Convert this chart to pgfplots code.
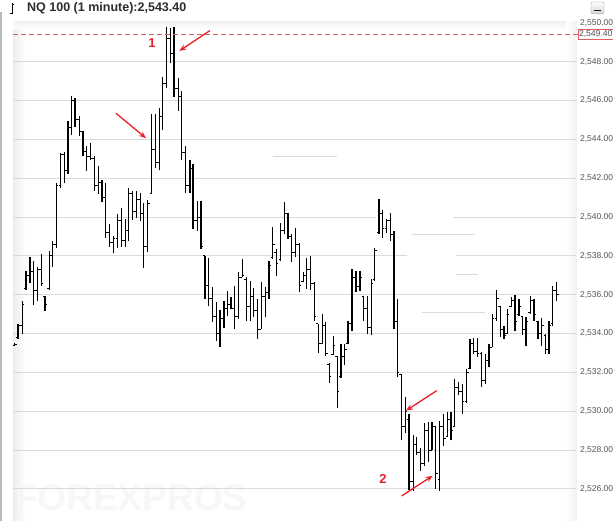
\documentclass[border=0pt]{standalone}
\usepackage{pgfplots}
\pgfplotsset{compat=1.18}
\usepackage{pgfplotstable}
\usepackage{fontspec}
\setmainfont{Liberation Sans}
\usetikzlibrary{arrows.meta}

\pgfdeclareplotmark{ohlcopen}{\pgfpathmoveto{\pgfqpoint{-2.0pt}{0pt}}\pgfpathlineto{\pgfqpoint{0pt}{0pt}}\pgfusepathqstroke}
\pgfdeclareplotmark{ohlcclose}{\pgfpathmoveto{\pgfqpoint{0pt}{0pt}}\pgfpathlineto{\pgfqpoint{2.0pt}{0pt}}\pgfusepathqstroke}

\definecolor{gridc}{RGB}{218,218,218}
\definecolor{annred}{RGB}{235,32,38}
\definecolor{dashred}{RGB}{222,92,92}
\definecolor{labgray}{RGB}{85,85,85}
\definecolor{titlec}{RGB}{45,45,45}

% x = horizontal position of the one-minute bar, o h l c = open high low close
\pgfplotstableread{
x o h l c
14.7 2533.40 2533.50 2533.35 2533.45
18.0 2533.80 2534.50 2533.73 2534.40
22.3 2534.40 2535.66 2534.00 2535.50
26.0 2536.30 2537.23 2536.26 2537.00
30.0 2537.00 2537.95 2536.58 2537.20
33.3 2537.20 2537.74 2535.49 2536.20
37.3 2536.20 2537.44 2535.66 2537.30
41.3 2537.30 2538.12 2536.46 2536.60
45.0 2535.90 2535.95 2535.18 2535.50
49.3 2536.30 2538.26 2536.24 2538.00
52.7 2538.00 2538.74 2537.44 2538.60
56.3 2538.60 2541.74 2538.43 2541.60
60.7 2541.60 2543.30 2541.47 2543.20
64.3 2543.20 2543.35 2541.73 2542.40
68.0 2542.40 2544.92 2542.23 2544.60
71.7 2544.60 2546.24 2544.24 2546.00
75.0 2546.00 2546.15 2544.64 2545.00
79.3 2545.00 2545.22 2544.15 2544.40
83.0 2544.40 2544.41 2543.16 2543.40
86.3 2543.40 2543.64 2542.39 2543.10
90.3 2543.10 2543.82 2542.96 2543.00
94.3 2543.00 2543.13 2541.33 2541.60
98.3 2541.60 2542.65 2541.20 2541.80
102.0 2541.80 2541.93 2540.77 2541.00
105.7 2541.00 2541.76 2538.94 2539.20
109.7 2539.20 2539.63 2538.46 2538.70
113.3 2538.70 2539.03 2538.17 2538.90
117.7 2538.90 2540.17 2538.43 2539.80
121.3 2539.80 2540.45 2538.46 2538.80
125.3 2538.80 2539.88 2538.46 2539.30
128.7 2539.30 2541.49 2538.75 2541.20
132.3 2541.20 2541.35 2539.87 2540.30
136.3 2540.30 2541.32 2539.95 2540.90
140.3 2540.90 2541.23 2539.78 2540.20
143.7 2540.20 2540.72 2537.38 2538.50
147.7 2538.50 2540.86 2538.21 2540.70
151.7 2541.20 2545.30 2541.18 2543.50
155.5 2543.50 2545.30 2542.50 2542.80
159.3 2542.80 2545.60 2542.40 2545.20
162.7 2545.20 2547.20 2544.50 2546.90
166.5 2546.90 2549.76 2546.64 2549.20
170.5 2549.20 2549.71 2547.95 2548.40
174.0 2548.40 2549.76 2546.20 2546.60
178.3 2546.60 2547.15 2545.44 2546.20
181.5 2546.20 2546.50 2542.96 2543.30
185.7 2543.30 2543.64 2541.25 2541.60
190.0 2541.60 2542.96 2541.25 2542.50
193.0 2542.50 2542.75 2539.37 2539.80
197.3 2539.80 2540.82 2539.28 2540.00
201.0 2540.00 2540.82 2538.34 2538.50
204.8 2538.00 2538.00 2535.80 2536.50
208.6 2536.50 2537.90 2535.40 2535.80
212.4 2535.80 2536.40 2534.60 2534.90
216.2 2534.90 2535.60 2533.60 2534.00
220.0 2534.00 2535.20 2533.30 2534.80
223.8 2534.80 2535.70 2534.30 2535.30
227.6 2535.30 2536.20 2534.90 2535.50
231.0 2535.50 2535.86 2535.24 2535.30
234.3 2535.30 2536.46 2534.24 2534.90
238.3 2534.90 2537.15 2534.75 2536.90
242.3 2536.90 2537.83 2536.89 2537.00
246.3 2536.80 2536.89 2534.67 2535.40
250.3 2535.40 2536.72 2534.67 2535.90
253.3 2535.90 2536.33 2534.84 2535.20
257.3 2535.20 2535.78 2533.73 2534.20
261.3 2534.20 2536.64 2534.24 2535.90
265.3 2535.90 2536.38 2534.84 2536.10
269.0 2536.10 2537.74 2535.78 2537.50
272.7 2537.90 2539.46 2537.83 2538.60
276.3 2538.20 2538.34 2536.97 2537.60
280.7 2537.80 2539.68 2537.74 2539.30
284.3 2539.30 2540.77 2539.11 2540.20
288.0 2540.20 2540.23 2538.86 2539.00
291.7 2539.00 2539.11 2537.66 2538.20
295.3 2538.20 2539.46 2537.92 2538.60
299.3 2538.60 2538.64 2536.15 2536.50
303.3 2536.70 2537.15 2536.67 2537.00
306.7 2537.00 2537.87 2536.29 2537.30
310.3 2537.30 2537.97 2536.26 2536.60
314.3 2536.60 2536.67 2534.67 2534.90
318.3 2534.50 2534.50 2533.01 2533.50
322.3 2533.50 2535.01 2533.47 2534.40
325.7 2534.40 2534.62 2532.84 2533.00
329.3 2532.40 2532.48 2531.47 2531.80
333.3 2532.90 2533.87 2532.91 2533.40
337.3 2532.80 2532.84 2530.17 2531.00
341.0 2531.80 2533.47 2531.70 2532.80
344.7 2532.80 2533.47 2532.36 2533.20
348.0 2533.50 2534.67 2533.47 2534.50
352.0 2534.50 2537.32 2534.15 2536.90
356.0 2536.90 2537.23 2536.12 2536.40
360.0 2536.40 2537.23 2536.21 2536.90
363.7 2535.90 2535.95 2534.67 2535.30
367.7 2535.30 2535.95 2533.98 2534.30
371.3 2534.30 2536.80 2533.90 2536.60
374.7 2536.80 2538.43 2536.72 2538.30
379.0 2539.20 2540.95 2539.11 2540.20
382.3 2540.20 2540.36 2538.94 2539.40
386.7 2539.40 2539.88 2539.20 2539.80
390.3 2539.80 2540.22 2538.77 2539.10
394.0 2539.10 2539.28 2534.24 2534.60
397.3 2534.60 2535.78 2531.76 2532.00
401.3 2531.90 2531.93 2528.51 2529.20
405.3 2529.20 2530.74 2528.86 2530.00
409.0 2529.60 2529.88 2525.95 2526.40
413.3 2526.40 2528.77 2525.90 2528.30
416.7 2528.30 2528.69 2527.74 2527.90
420.7 2527.90 2528.10 2526.90 2527.30
424.5 2527.30 2529.37 2527.20 2529.00
428.2 2529.00 2529.45 2527.41 2528.00
432.0 2528.00 2529.45 2528.00 2529.20
435.5 2529.20 2529.20 2526.00 2526.80
439.5 2526.50 2529.50 2525.92 2529.20
443.5 2529.20 2529.88 2528.20 2528.60
447.5 2528.70 2529.97 2528.70 2529.60
451.0 2529.60 2529.97 2528.50 2529.00
454.5 2529.20 2531.68 2529.20 2531.20
458.3 2531.20 2531.51 2530.82 2531.00
462.3 2531.00 2531.42 2529.88 2530.50
466.5 2530.50 2532.19 2530.40 2532.00
470.0 2532.20 2533.73 2532.19 2533.50
473.5 2533.50 2533.76 2532.96 2533.10
477.2 2533.10 2533.76 2532.79 2533.00
481.7 2533.00 2533.05 2531.25 2531.60
485.5 2531.60 2532.96 2531.42 2532.60
489.0 2532.60 2533.47 2532.28 2533.30
492.3 2533.30 2535.00 2533.30 2534.80
496.5 2534.80 2536.26 2534.67 2535.80
500.3 2535.40 2535.44 2533.82 2534.20
504.0 2534.20 2534.41 2533.73 2533.90
507.3 2534.00 2535.27 2533.98 2535.00
511.3 2535.40 2535.87 2535.35 2535.70
515.0 2535.70 2535.99 2534.15 2534.60
519.0 2535.00 2535.78 2534.92 2535.40
522.7 2534.90 2534.92 2533.90 2534.20
526.0 2534.20 2534.84 2533.38 2534.60
530.3 2535.10 2535.95 2535.01 2535.70
534.0 2535.70 2535.78 2534.67 2535.00
538.0 2534.60 2534.67 2533.73 2534.00
541.7 2534.00 2534.79 2533.38 2534.40
545.7 2533.90 2533.98 2532.96 2533.20
549.0 2533.20 2534.67 2532.96 2534.40
552.7 2534.50 2536.46 2534.41 2536.20
556.7 2536.20 2536.64 2535.69 2536.00
}\ohlc

\begin{document}
\begin{tikzpicture}[x=1pt,y=1pt]
\useasboundingbox (0,0) rectangle (613,521);
\fill[white] (0,0) rectangle (613,521);
% frame decorations
\fill[gray!55] (0,0) rectangle (2.2,509);
\shade[left color=gray!14, right color=white] (13,0) rectangle (26,499);
\shade[top color=gray!10, bottom color=white] (13,499) rectangle (575,492);
\shade[left color=white, right color=gray!12] (566,0) rectangle (577,499);
% watermark
\node[anchor=base west, inner sep=0pt, text=gray!6, font=\fontsize{37}{37}\selectfont\bfseries] at (15,10) {FOREXPROS};
% title
\draw[black, line width=0.8pt] (12,518) -- (12,507);
\draw[black, line width=0.8pt] (10,508) -- (12,508);
\draw[black, line width=0.8pt] (12,516.5) -- (14,516.5);
\node[anchor=base west, inner sep=0pt, text=titlec, font=\fontsize{12.5}{13}\selectfont\bfseries] at (27,509) {NQ 100 (1 minute):2,543.40};
% top right button
\shade[top color=white, bottom color=gray!35, draw=gray!70, rounded corners=2pt] (591,507) rectangle (604,519);
\draw[gray!20!black, line width=1.4pt] (594,510.5) -- (601,510.5);

\begin{axis}[
  at={(13pt,0pt)}, anchor=south west,
  scale only axis, width=562pt, height=499pt,
  xmin=13, xmax=575, ymin=2524.35, ymax=2550.04,
  axis line style={draw=none}, tick style={draw=none},
  xtick=\empty,
  ytick={2526,2528,2530,2532,2534,2536,2538,2540,2542,2544,2546,2548,2550},
  yticklabel pos=right,
  yticklabel style={anchor=west, xshift=1.5pt, text=labgray,
    font=\fontsize{8.5}{9}\selectfont,
    /pgf/number format/fixed, /pgf/number format/fixed zerofill,
    /pgf/number format/precision=2, /pgf/number format/1000 sep={,},
    /pgf/number format/assume math mode=true},
  clip=false,
]
% grid lines (partly interrupted as in the screenshot)
\pgfplotsinvokeforeach{2526,2528,2530,2532,2534,2536,2542,2544,2546,2548}{
  \draw[gridc, line width=1pt] (axis cs:13,#1) -- (axis cs:576,#1);
}
\draw[gridc, line width=1pt] (axis cs:13,2540) -- (axis cs:376,2540);
\draw[gridc, line width=1pt] (axis cs:453,2540) -- (axis cs:576,2540);
\draw[gridc, line width=1pt] (axis cs:13,2538) -- (axis cs:407,2538);
\draw[gridc, line width=1pt] (axis cs:456,2538) -- (axis cs:576,2538);
\draw[gridc, line width=1pt] (axis cs:272.7,2543.11) -- (axis cs:336.7,2543.11);
\draw[gridc, line width=1pt] (axis cs:411.5,2539.08) -- (axis cs:475,2539.08);
\draw[gridc, line width=1pt] (axis cs:456,2537.05) -- (axis cs:478,2537.05);
\draw[gridc, line width=1pt] (axis cs:421.7,2535.10) -- (axis cs:485,2535.10);

% high-low ranges
\addplot[draw=none, mark=none, forget plot,
  error bars/.cd, y dir=plus, y explicit,
  error bar style={black, line width=1.4pt, line cap=butt}, error mark=none]
  table[x=x, y=l, y error expr=\thisrow{h}-\thisrow{l}] {\ohlc};
% open ticks
\addplot[draw=none, mark=ohlcopen, black, mark options={line width=0.9pt}, forget plot]
  table[x=x, y=o] {\ohlc};
% close ticks
\addplot[draw=none, mark=ohlcclose, black, mark options={line width=0.9pt}, forget plot]
  table[x=x, y=c] {\ohlc};

% last-high reference line and label
\draw[dashred, line width=0.8pt, dash pattern=on 5pt off 3pt] (axis cs:13,2549.4) -- (axis cs:578,2549.4);
\node[draw=dashred, fill=white, line width=0.6pt, inner sep=1.2pt, anchor=west, text=labgray,
  font=\fontsize{8.6}{9}\selectfont] at (axis cs:577.5,2549.4) {2,549.40};

% annotations
\draw[annred, line width=1.3pt, -{Stealth[length=7pt,width=5.5pt]}] (axis cs:210,2549.60) -- (axis cs:179.3,2548.55);
\node[text=annred, font=\fontsize{13}{13}\selectfont\bfseries] at (axis cs:152,2548.96) {1};
\draw[annred, line width=1.3pt, -{Stealth[length=7pt,width=5.5pt]}] (axis cs:116,2545.34) -- (axis cs:146,2544.06);
\draw[annred, line width=1.3pt, -{Stealth[length=7pt,width=5.5pt]}] (axis cs:436.7,2531.06) -- (axis cs:406,2530.03);
\draw[annred, line width=1.3pt, -{Stealth[length=7pt,width=5.5pt]}] (axis cs:401.7,2525.64) -- (axis cs:432.7,2526.68);
\node[text=annred, font=\fontsize{13}{13}\selectfont\bfseries] at (axis cs:383,2526.51) {2};
\end{axis}
\end{tikzpicture}
\end{document}
